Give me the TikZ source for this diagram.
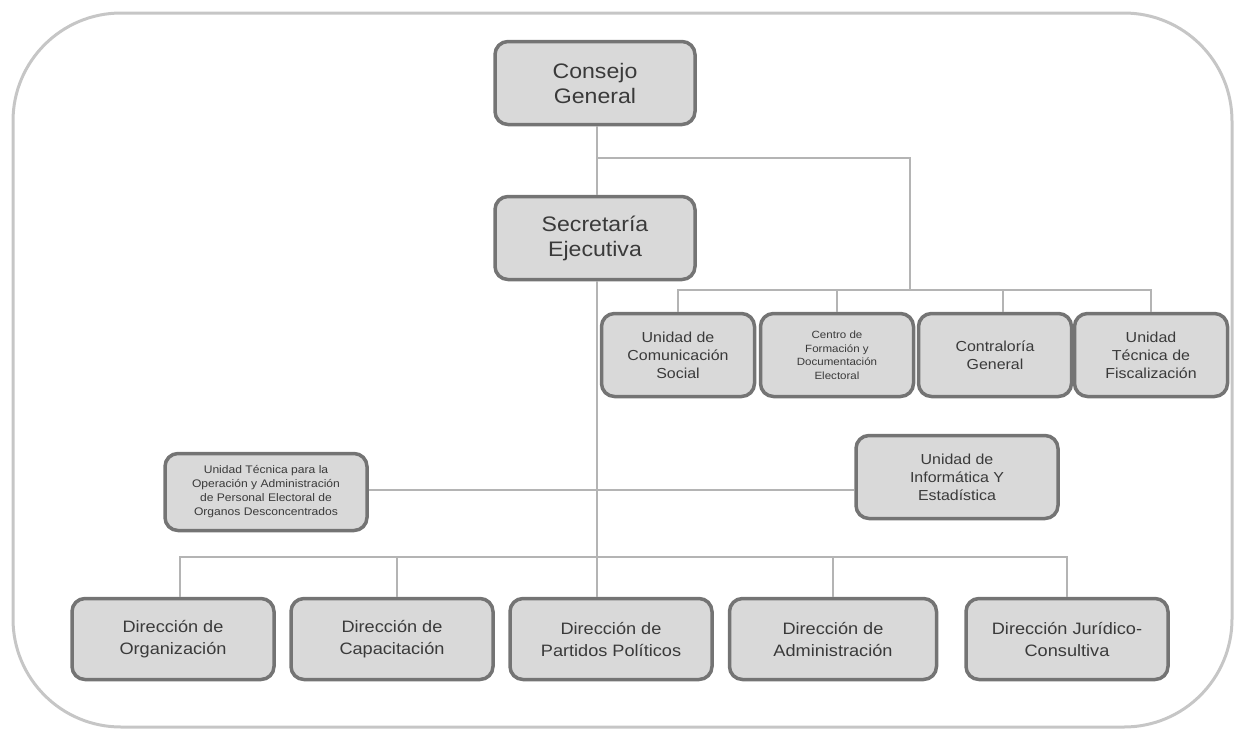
\documentclass[tikz,border=0pt]{standalone}
\usepackage{fontspec}
\setmainfont{Liberation Sans}[FakeStretch=1.1]
\definecolor{boxfill}{HTML}{D9D9D9}
\definecolor{boxline}{HTML}{747474}
\definecolor{conn}{HTML}{B4B4B4}
\definecolor{frame}{HTML}{C6C6C6}
\definecolor{txt}{HTML}{3A3A3A}
\tikzset{
  orgbox/.style={draw=boxline, fill=boxfill, line width=3.5pt, rounded corners=13pt,
    align=center, text=txt, inner sep=2pt},
  big/.style={orgbox, minimum width=200pt, minimum height=83pt, font=\fontsize{21}{25}\selectfont},
  mid/.style={orgbox, minimum width=153pt, minimum height=83pt, font=\fontsize{14.5}{18}\selectfont},
  low/.style={orgbox, minimum width=202pt, minimum height=81pt, font=\fontsize{16.5}{22}\selectfont},
  conline/.style={draw=conn, line width=1.6pt},
}
\begin{document}
\begin{tikzpicture}[x=1pt,y=-1pt]
\useasboundingbox (0,0) rectangle (1235,732);
\draw[draw=frame, line width=3pt, rounded corners=108pt] (13,13) rectangle (1232,727);

% nodes
\node[big] (cg) at (595,83) {Consejo\\General};
\node[big] (se) at (595,238) {Secretaría\\Ejecutiva};

\node[mid] (ucs) at (678,355) {Unidad de\\Comunicación\\Social};
\node[mid, font=\fontsize{10.5}{13.5}\selectfont] (cfe) at (837,355) {Centro de\\Formación y\\Documentación\\Electoral};
\node[mid] (cog) at (995,355) {Contraloría\\General};
\node[mid] (utf) at (1151,355) {Unidad\\Técnica de\\Fiscalización};

\node[orgbox, minimum width=202pt, minimum height=77pt, font=\fontsize{11}{14}\selectfont] (uto) at (266,492)
  {Unidad Técnica para la\\Operación y Administración\\de Personal Electoral de\\Organos Desconcentrados};
\node[orgbox, minimum width=202pt, minimum height=83pt, font=\fontsize{14.5}{18}\selectfont] (uie) at (957,477)
  {Unidad de\\Informática Y\\Estadística};

\node[low] (dor) at (173,639) {Dirección de\\Organización};
\node[low] (dca) at (392,639) {Dirección de\\Capacitación};
\node[low] (dpp) at (611,639) {Dirección de\\Partidos Políticos};
\node[low, minimum width=207pt] (dad) at (833,639) {Dirección de\\Administración};
\node[low] (djc) at (1067,639) {Dirección Jurídico-\\Consultiva};

% junction coordinates
\coordinate (j1) at (597,158);
\coordinate (r1) at (910,290);
\coordinate (b1) at (597,557);

% connectors
\draw[conline] (cg.south -| j1) -- (se.north -| j1);
\draw[conline] (se.south -| j1) -- (dpp.north -| j1);
\draw[conline] (j1) -| (r1);
\draw[conline] (ucs.north) -- (ucs.north |- r1) -- (utf.north |- r1) -- (utf.north);
\draw[conline] (cfe.north) -- (cfe.north |- r1);
\draw[conline] ([xshift=8pt]cog.north) -- ([xshift=8pt]cog.north |- r1);
\draw[conline] (uto.east |- 0,490) -- (uie.west |- 0,490);
\draw[conline] ([xshift=7pt]dor.north) -- ([xshift=7pt]dor.north |- b1) -- (djc.north |- b1) -- (djc.north);
\draw[conline] ([xshift=5pt]dca.north) -- ([xshift=5pt]dca.north |- b1);
\draw[conline] (dad.north) -- (dad.north |- b1);
\end{tikzpicture}
\end{document}
